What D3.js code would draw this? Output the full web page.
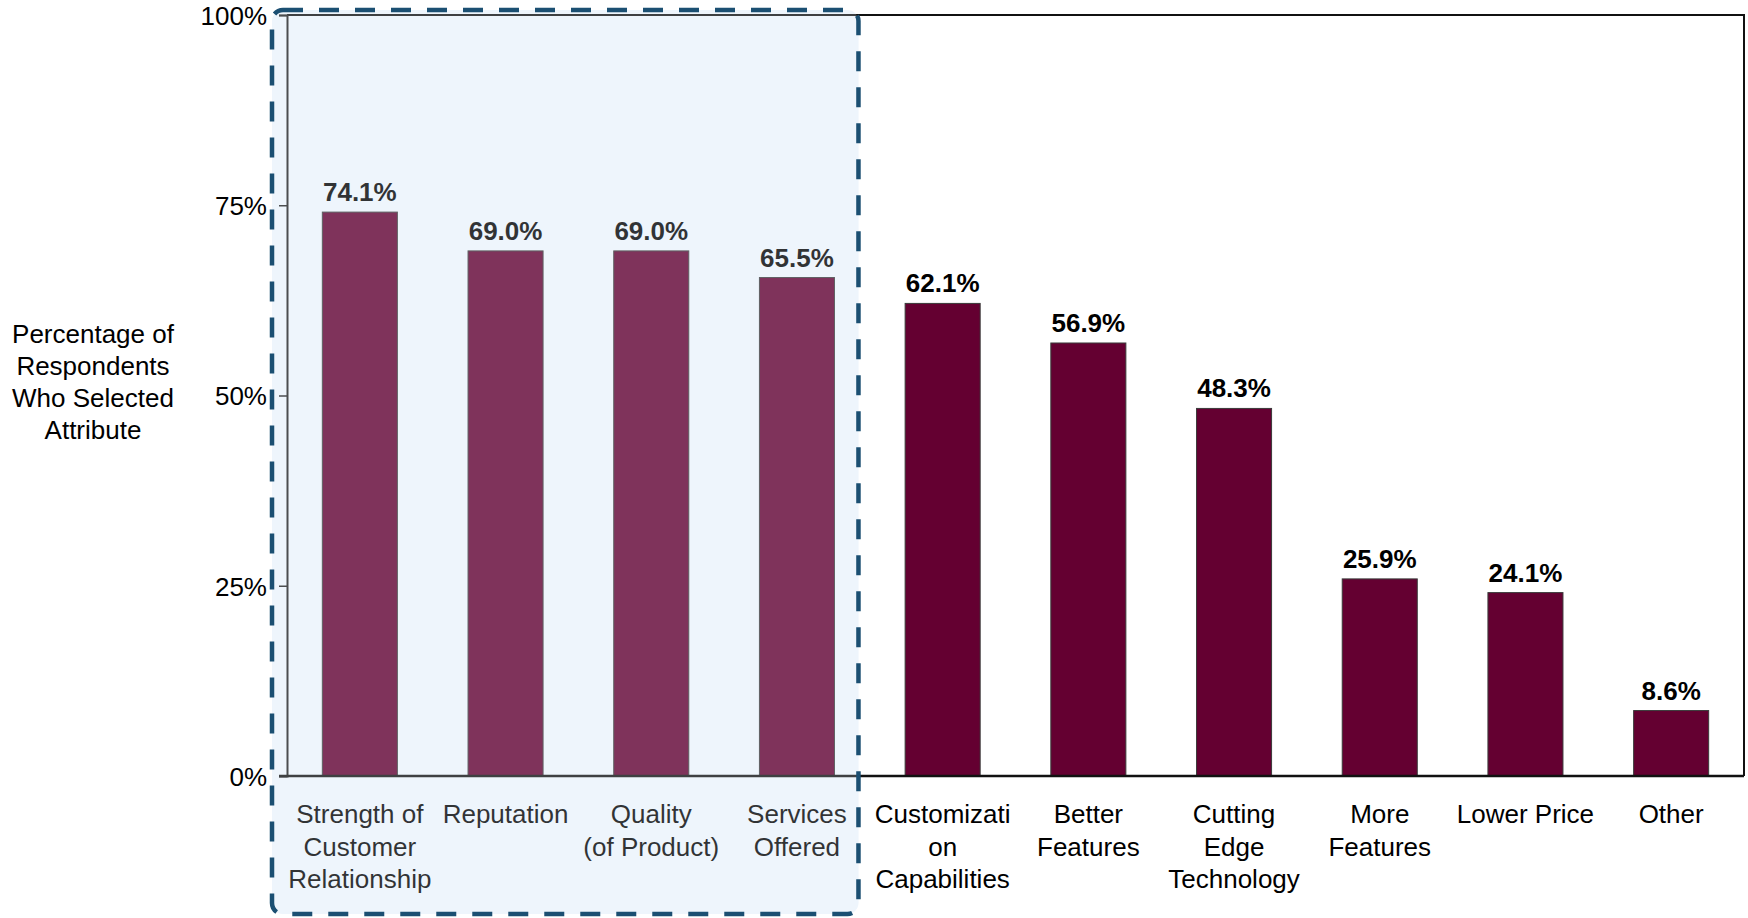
<!DOCTYPE html>
<html>
<head>
<meta charset="utf-8">
<script src="https://cdn.jsdelivr.net/npm/d3@7"></script>
<style>
  html, body { margin: 0; padding: 0; background: #fff; }
  svg { display: block; }
</style>
</head>
<body>
<svg id="chart" width="1748" height="918"></svg>
<script>
// ---- data ----
const categories = [
  "Strength of Customer Relationship",
  "Reputation",
  "Quality (of Product)",
  "Services Offered",
  "Customization Capabilities",
  "Better Features",
  "Cutting Edge Technology",
  "More Features",
  "Lower Price",
  "Other"
];
const labelLines = [
  ["Strength of", "Customer", "Relationship"],
  ["Reputation"],
  ["Quality", "(of Product)"],
  ["Services", "Offered"],
  ["Customizati", "on", "Capabilities"],
  ["Better", "Features"],
  ["Cutting", "Edge", "Technology"],
  ["More", "Features"],
  ["Lower Price"],
  ["Other"]
];
const values = [74.1, 69.0, 69.0, 65.5, 62.1, 56.9, 48.3, 25.9, 24.1, 8.6];
const highlighted = categories.slice(0, 4);
const yTicks = [0, 25, 50, 75, 100];
const yTitleLines = ["Percentage of", "Respondents", "Who Selected", "Attribute"];

// ---- layout ----
const svg = d3.select("#chart");
const pL = 287, pR = 1744, pT = 15, pB = 776;
const FONT = "Liberation Sans, Arial, sans-serif";

const x = d3.scaleBand().domain(categories).range([pL, pR])
  .paddingInner(0.485).paddingOuter(0.2425);
const y = d3.scaleLinear().domain([0, 100]).range([pB, pT]);

// highlight box geometry (from band positions)
const lastHi = highlighted[highlighted.length - 1];
const boxX0 = pL - 15;
const boxX1 = x(lastHi) + x.bandwidth() + 24;
const boxY0 = 10, boxY1 = 914;

// box background
svg.append("rect")
  .attr("x", boxX0).attr("y", boxY0)
  .attr("width", boxX1 - boxX0).attr("height", boxY1 - boxY0)
  .attr("rx", 11).attr("ry", 11)
  .attr("fill", "#f0f7fd");

// plot frame (top + right)
svg.append("path")
  .attr("d", `M${pL},${pT}H${pR}V${pB}`)
  .attr("fill", "none").attr("stroke", "#111").attr("stroke-width", 2);

// bars
svg.append("g").selectAll("rect")
  .data(values)
  .join("rect")
  .attr("x", (d, i) => x(categories[i]))
  .attr("y", d => y(d))
  .attr("width", x.bandwidth())
  .attr("height", d => y(0) - y(d))
  .attr("fill", "#640031")
  .attr("stroke", "#3a3a3a")
  .attr("stroke-width", 1);

// value labels
svg.append("g").selectAll("text")
  .data(values)
  .join("text")
  .attr("x", (d, i) => x(categories[i]) + x.bandwidth() / 2)
  .attr("y", d => y(d) - 11)
  .attr("text-anchor", "middle")
  .attr("font-family", FONT)
  .attr("font-weight", "bold")
  .attr("font-size", 26)
  .attr("fill", "#000")
  .text(d => d.toFixed(1) + "%");

// y axis
const yAxis = svg.append("g")
  .attr("transform", `translate(${pL},0)`)
  .call(d3.axisLeft(y).tickValues(yTicks).tickFormat(d => d + "%").tickSize(8).tickPadding(12));
yAxis.select(".domain").attr("stroke", "#222").attr("stroke-width", 2);
yAxis.selectAll(".tick line").attr("stroke", "#222").attr("stroke-width", 1.5);
yAxis.selectAll(".tick text")
  .attr("font-family", FONT)
  .attr("font-size", 26)
  .attr("fill", "#000")
  .attr("dy", "0.36em");

// x axis baseline
svg.append("line")
  .attr("x1", pL - 8).attr("x2", pR)
  .attr("y1", y(0)).attr("y2", y(0))
  .attr("stroke", "#111").attr("stroke-width", 2.5);

// category labels
const catG = svg.append("g");
categories.forEach((c, i) => {
  const cx = x(c) + x.bandwidth() / 2;
  const t = catG.append("text")
    .attr("x", cx)
    .attr("y", 823)
    .attr("text-anchor", "middle")
    .attr("font-family", FONT)
    .attr("font-size", 26)
    .attr("fill", "#000");
  labelLines[i].forEach((ln, j) => {
    t.append("tspan")
      .attr("x", cx)
      .attr("dy", j === 0 ? 0 : 32.5)
      .text(ln);
  });
});

// translucent overlay for highlighted region
svg.append("rect")
  .attr("x", boxX0).attr("y", boxY0)
  .attr("width", boxX1 - boxX0).attr("height", boxY1 - boxY0)
  .attr("rx", 11).attr("ry", 11)
  .attr("fill", "#e9f2f9")
  .attr("fill-opacity", 0.21);

// dashed outline
svg.append("rect")
  .attr("x", boxX0).attr("y", boxY0)
  .attr("width", boxX1 - boxX0).attr("height", boxY1 - boxY0)
  .attr("rx", 11).attr("ry", 11)
  .attr("fill", "none")
  .attr("stroke", "#1b4f72")
  .attr("stroke-width", 4.5)
  .attr("stroke-dasharray", "20,16");

// y-axis title
const yt = svg.append("text")
  .attr("x", 93).attr("y", 343)
  .attr("text-anchor", "middle")
  .attr("font-family", FONT)
  .attr("font-size", 26)
  .attr("fill", "#000");
yTitleLines.forEach((ln, j) => {
  yt.append("tspan").attr("x", 93).attr("dy", j === 0 ? 0 : 32).text(ln);
});
</script>
</body>
</html>
